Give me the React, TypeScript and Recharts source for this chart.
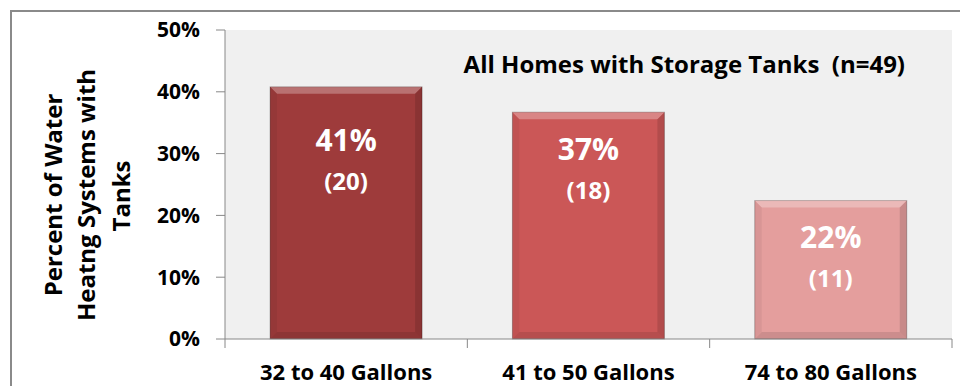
import { BarChart, Bar, XAxis, YAxis, CartesianGrid, Cell, LabelList } from 'recharts';

const categories = ['32 to 40 Gallons', '41 to 50 Gallons', '74 to 80 Gallons'];
const shares = [0.408, 0.367, 0.224];
const counts = [20, 18, 11];
const yTicks = [0, 0.1, 0.2, 0.3, 0.4, 0.5];

const barColors = ['#9E3B3B', '#CB5757', '#E49E9D'];
const labelOffsets = [64, 48, 47];

const W = 960;
const H = 386;
const FONT = '"Open Sans", Lato, sans-serif';
const PLOT_LEFT = 225;
const PLOT_RIGHT = 8;
const BAND = (W - PLOT_LEFT - PLOT_RIGHT) / categories.length;

const data = categories.map((name, i) => ({ name, share: shares[i], count: counts[i] }));

function BevelBar(props: any) {
  const { x, y, width, height, fill } = props;
  if (!height || height <= 0) return null;
  const b = 7;
  return (
    <g>
      <rect x={x} y={y} width={width} height={height} fill={fill} stroke="rgba(0,0,0,0.25)" strokeWidth={1} />
      <polygon
        points={`${x},${y} ${x + width},${y} ${x + width - b},${y + b} ${x + b},${y + b}`}
        fill="#fff"
        opacity={0.28}
      />
      <polygon
        points={`${x},${y} ${x + b},${y + b} ${x + b},${y + height - b} ${x},${y + height}`}
        fill="#000"
        opacity={0.05}
      />
      <polygon
        points={`${x + width},${y} ${x + width - b},${y + b} ${x + width - b},${y + height - b} ${x + width},${y + height}`}
        fill="#000"
        opacity={0.12}
      />
      <polygon
        points={`${x},${y + height} ${x + b},${y + height - b} ${x + width - b},${y + height - b} ${x + width},${y + height}`}
        fill="#000"
        opacity={0.1}
      />
    </g>
  );
}

function BarText(props: any) {
  const { x, y, width, index } = props;
  const cx = x + width / 2;
  const off = labelOffsets[index] ?? 50;
  return (
    <g fill="#fff" fontFamily={FONT} fontWeight={700} textAnchor="middle">
      <text x={cx} y={y + off} fontSize={30}>
        {Math.round(shares[index] * 100)}%
      </text>
      <text x={cx} y={y + off + 39} fontSize={24}>
        ({counts[index]})
      </text>
    </g>
  );
}

function XTick(props: any) {
  const { x, y, payload, index } = props;
  const left = x - BAND / 2;
  return (
    <g>
      <line x1={left} x2={left} y1={y} y2={y + 9} stroke="#888" />
      {index === categories.length - 1 && (
        <line x1={x + BAND / 2} x2={x + BAND / 2} y1={y} y2={y + 9} stroke="#888" />
      )}
      <text x={x} y={y + 41} textAnchor="middle" fontFamily={FONT} fontWeight={700} fontSize={22} fill="#000">
        {payload.value}
      </text>
    </g>
  );
}

export default function App() {
  return (
    <div style={{ position: 'absolute', left: 0, top: 0, width: W, height: H, background: '#fff' }}>
      <BarChart
        width={W}
        height={H}
        data={data}
        margin={{ top: 30, right: PLOT_RIGHT, bottom: 0, left: 0 }}
        barCategoryGap="18.6%"
      >
        <CartesianGrid fill="#f0f0f0" horizontal={false} vertical={false} />
        <XAxis
          dataKey="name"
          height={47}
          tickSize={0}
          tickMargin={0}
          axisLine={{ stroke: '#888' }}
          tick={<XTick />}
          interval={0}
        />
        <YAxis
          width={PLOT_LEFT}
          domain={[0, 0.5]}
          ticks={yTicks}
          tickFormatter={(v: number) => `${Math.round(v * 100)}%`}
          tickSize={9}
          tickMargin={16}
          axisLine={{ stroke: '#888' }}
          tickLine={{ stroke: '#888' }}
          tick={{ fill: '#000', fontFamily: FONT, fontWeight: 700, fontSize: 21 }}
        />
        <Bar dataKey="share" shape={<BevelBar />} isAnimationActive={false}>
          {data.map((d, i) => (
            <Cell key={d.name} fill={barColors[i]} />
          ))}
          <LabelList dataKey="share" content={<BarText />} />
        </Bar>
      </BarChart>
      <svg
        width={W}
        height={H}
        style={{ position: 'absolute', left: 0, top: 0, pointerEvents: 'none' }}
      >
        <rect x={11} y={11} width={W} height={H} fill="none" stroke="#8a8a8a" strokeWidth={2} />
        <text
          x={905}
          y={73}
          textAnchor="end"
          fontFamily={FONT}
          fontWeight={700}
          fontSize={24}
          fill="#000"
          style={{ whiteSpace: 'pre' }}
        >
          {'All Homes with Storage Tanks  (n=49)'}
        </text>
        <g transform="rotate(-90)" fontFamily={FONT} fontWeight={700} fontSize={24} fill="#000" textAnchor="middle">
          <text x={-195} y={62}>Percent of Water</text>
          <text x={-195} y={95}>Heatng Systems with</text>
          <text x={-196} y={130}>Tanks</text>
        </g>
      </svg>
    </div>
  );
}
